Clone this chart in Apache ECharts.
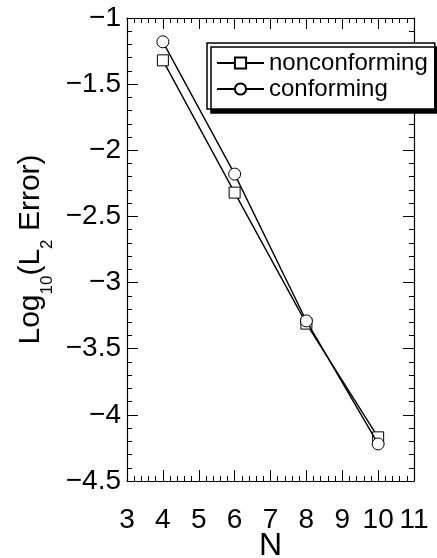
<!DOCTYPE html>
<html>
<head>
<meta charset="utf-8">
<script src="https://cdn.jsdelivr.net/npm/echarts@6/dist/echarts.min.js"></script>
<style>
  html, body { margin: 0; padding: 0; background: #fff; }
  #chart { width: 437px; height: 558px; }
</style>
</head>
<body>
<div id="chart"></div>
<script>
// Polynomial order N and log10 of the L2 error for each discretisation
const orders = [4, 6, 8, 10];
const nonconforming = [-1.32, -2.32, -3.31, -4.17];
const conforming = [-1.18, -2.18, -3.29, -4.22];

const xTicks = { min: 3, max: 11, interval: 1 };
const yTicks = { min: -4.5, max: -1, interval: 0.5 };

const FONT = '"Liberation Sans", Arial, sans-serif';
const INK = '#000';

function pairs(xs, ys) {
  return xs.map((x, i) => [x, ys[i]]);
}

// minus sign for negative tick values
function minusLabel(v) {
  return String(v).replace('-', '\u2212');
}

const frameTicks = {
  axisLine: { show: true, onZero: false, lineStyle: { color: INK, width: 1.2 } },
  axisTick: { show: true, inside: true, length: 11, lineStyle: { color: INK, width: 1 } },
  minorTick: { show: true, splitNumber: 5, length: 5, lineStyle: { color: INK, width: 1 } },
  splitLine: { show: false }
};

const chart = echarts.init(document.getElementById('chart'), null, { renderer: 'canvas' });

chart.setOption({
  backgroundColor: '#fff',
  animation: false,
  grid: { left: 127, right: 23, top: 18, bottom: 77, containLabel: false, outerBoundsMode: 'none' },
  legend: {
    orient: 'vertical',
    left: 207,
    top: 43,
    padding: [8, 7, 8, 9],
    itemGap: 2,
    itemWidth: 47,
    itemHeight: 14,
    backgroundColor: '#fff',
    borderColor: INK,
    borderWidth: 1.5,
    borderRadius: 0,
    shadowColor: INK,
    shadowBlur: 0,
    shadowOffsetX: 4,
    shadowOffsetY: 4,
    textStyle: { fontFamily: FONT, fontSize: 24, color: INK },
    data: ['nonconforming', 'conforming']
  },
  xAxis: [
    Object.assign({
      type: 'value',
      position: 'bottom',
      min: xTicks.min, max: xTicks.max, interval: xTicks.interval,
      name: 'N',
      nameLocation: 'middle',
      nameGap: 49,
      nameMoveOverlap: false,
      nameTextStyle: { fontFamily: FONT, fontSize: 32, color: INK },
      axisLabel: {
        show: true, margin: 25, showMinLabel: true, showMaxLabel: true,
        fontFamily: FONT, fontSize: 28, color: INK
      }
    }, frameTicks),
    Object.assign({
      type: 'value',
      position: 'top',
      min: xTicks.min, max: xTicks.max, interval: xTicks.interval,
      axisLabel: { show: false }
    }, frameTicks)
  ],
  yAxis: [
    Object.assign({
      type: 'value',
      position: 'left',
      min: yTicks.min, max: yTicks.max, interval: yTicks.interval,
      name: '{a|Log}{s|10}{a|(L}{s|2}{a| Error)}',
      nameLocation: 'middle',
      nameRotate: 90,
      nameGap: 71,
      nameMoveOverlap: false,
      nameTextStyle: {
        color: INK,
        rich: {
          a: { fontFamily: FONT, fontSize: 30, color: INK, lineHeight: 50, verticalAlign: 'middle' },
          s: { fontFamily: FONT, fontSize: 17, color: INK, lineHeight: 17, verticalAlign: 'bottom' }
        }
      },
      axisLabel: {
        show: true, margin: 6, showMinLabel: true, showMaxLabel: true,
        fontFamily: FONT, fontSize: 28, color: INK,
        formatter: minusLabel
      }
    }, frameTicks),
    Object.assign({
      type: 'value',
      position: 'right',
      min: yTicks.min, max: yTicks.max, interval: yTicks.interval,
      axisLabel: { show: false }
    }, frameTicks)
  ],
  series: [
    {
      name: 'nonconforming',
      type: 'line',
      xAxisIndex: 0, yAxisIndex: 0,
      data: pairs(orders, nonconforming),
      symbol: 'rect',
      symbolSize: 11,
      lineStyle: { color: INK, width: 1.4 },
      itemStyle: { color: '#fff', borderColor: INK, borderWidth: 1 },
      z: 3
    },
    {
      name: 'conforming',
      type: 'line',
      xAxisIndex: 0, yAxisIndex: 0,
      data: pairs(orders, conforming),
      symbol: 'circle',
      symbolSize: 12,
      lineStyle: { color: INK, width: 1.4 },
      itemStyle: { color: '#fff', borderColor: INK, borderWidth: 1 },
      z: 4
    }
  ]
});
</script>
</body>
</html>
